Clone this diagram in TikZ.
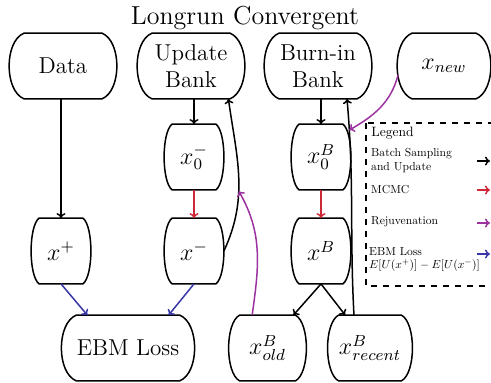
\documentclass[tikz,border=0pt]{standalone}
\usetikzlibrary{arrows.meta}
\definecolor{cred}{RGB}{205,40,55}
\definecolor{cpurple}{RGB}{155,50,160}
\definecolor{cblue}{RGB}{55,55,170}
\newcommand\bulgebox[2]{\draw[line width=0.75pt] (#1.north west) -- (#1.north east)
  .. controls +(#2*1.333,-8) and +(#2*1.333,8) .. (#1.south east) -- (#1.south west)
  .. controls +(-#2*1.333,8) and +(-#2*1.333,-8) .. (#1.north west) -- cycle;}
\begin{document}
\begin{tikzpicture}[x=0.5pt,y=0.5pt,
  box/.style={rectangle, minimum height=32.5pt, inner xsep=0pt, inner ysep=1pt,
    font=\fontsize{11.5}{13.5}\selectfont, align=center},
  arr/.style={line width=0.75pt, -{To[length=2.5pt,width=4.5pt]}},
  legtxt/.style={anchor=west, inner sep=0pt, align=left, font=\normalsize, scale=0.58, transform shape},
]
\useasboundingbox (0,0) rectangle (491,382);
\clip (0,0) rectangle (491,382);

\node[font=\fontsize{13}{15}\selectfont] (title) at (245,364) {Longrun Convergent};

\node[box, minimum width=38.5pt] (data) at (63,316) {Data};
\node[box, minimum width=38.5pt] (ub) at (191,316) {Update\\Bank};
\node[box, minimum width=38.5pt] (bb) at (318,316) {Burn-in\\Bank};
\node[box, minimum width=31.5pt] (xn) at (444,316) {$x_{new}$};

\node[box, minimum width=21.5pt] (x0m) at (194,225) {$x_0^-$};
\node[box, minimum width=21.5pt] (x0b) at (321,225) {$x_0^B$};
\node[box, minimum width=21.5pt] (xp) at (61,131) {$x^+$};
\node[box, minimum width=21.5pt] (xm) at (194,131) {$x^-$};
\node[box, minimum width=21.5pt] (xb) at (321,131) {$x^B$};

\node[box, minimum width=47pt] (ebm) at (128,34) {EBM Loss};
\node[box, minimum width=27.5pt] (xold) at (267.5,34) {$x^B_{old}$};
\node[box, minimum width=28pt] (xrec) at (370,34) {$x^B_{recent}$};

\bulgebox{data}{15}
\bulgebox{ub}{15}
\bulgebox{bb}{15}
\bulgebox{xn}{15}
\bulgebox{x0m}{8}
\bulgebox{x0b}{8}
\bulgebox{xp}{8}
\bulgebox{xm}{8}
\bulgebox{xb}{8}
\bulgebox{ebm}{15}
\bulgebox{xold}{11}
\bulgebox{xrec}{11}

% connectors
\draw[arr] (xp.north |- data.south) -- (xp.north);
\draw[arr] (x0m.north |- ub.south) -- (x0m.north);
\draw[arr, cred] (x0m) -- (xm);
\draw[arr] (x0b.north |- bb.south) -- (x0b.north);
\draw[arr, cred] (x0b) -- (xb);
\draw[arr, cblue] (xp.south) -- (ebm.141);
\draw[arr, cblue] (xm.south) -- (ebm.39);
\draw[arr] (xb.south) -- ([xshift=-1pt]xold.north east);
\draw[arr] (xb.south) -- (xrec.127);
\draw[arr] ([xshift=4pt]xm.east) to[out=65,in=-82] coordinate[pos=0.4] (j1) ([xshift=-0.75pt]ub.south east);
\draw[arr] (xrec.116) to[out=93,in=-85] coordinate[pos=0.87] (j2) ([xshift=14.5pt]bb.south);
\draw[arr, cpurple] (xold.115) to[out=82,in=-60] (j1);
\draw[arr, cpurple] ([xshift=-7pt,yshift=-4.5pt]xn.west) to[out=-105,in=30] (j2);

% legend
\draw[dashed, line width=0.6pt] (366,259) rectangle (495,96);
\node[legtxt, scale=1.17] (lg) at (371,249) {Legend};
\node[legtxt] (l1) at (371,221.5) {Batch Sampling\\and Update};
\node[legtxt] (l2) at (371,192) {MCMC};
\node[legtxt] (l3) at (371,160) {Rejuvenation};
\node[legtxt] (l4) at (369,122.5) {EBM Loss\\$E[U(x^+)]-E[U(x^-)]$};
\coordinate (a1) at (477,221); \coordinate (b1) at (490,221);
\coordinate (a2) at (477,192); \coordinate (b2) at (490,192);
\coordinate (a3) at (477,159); \coordinate (b3) at (490,159);
\coordinate (a4) at (477,128); \coordinate (b4) at (490,128);
\draw[arr] (a1) -- (b1);
\draw[arr, cred] (a2) -- (b2);
\draw[arr, cpurple] (a3) -- (b3);
\draw[arr, cblue] (a4) -- (b4);
\end{tikzpicture}
\end{document}
